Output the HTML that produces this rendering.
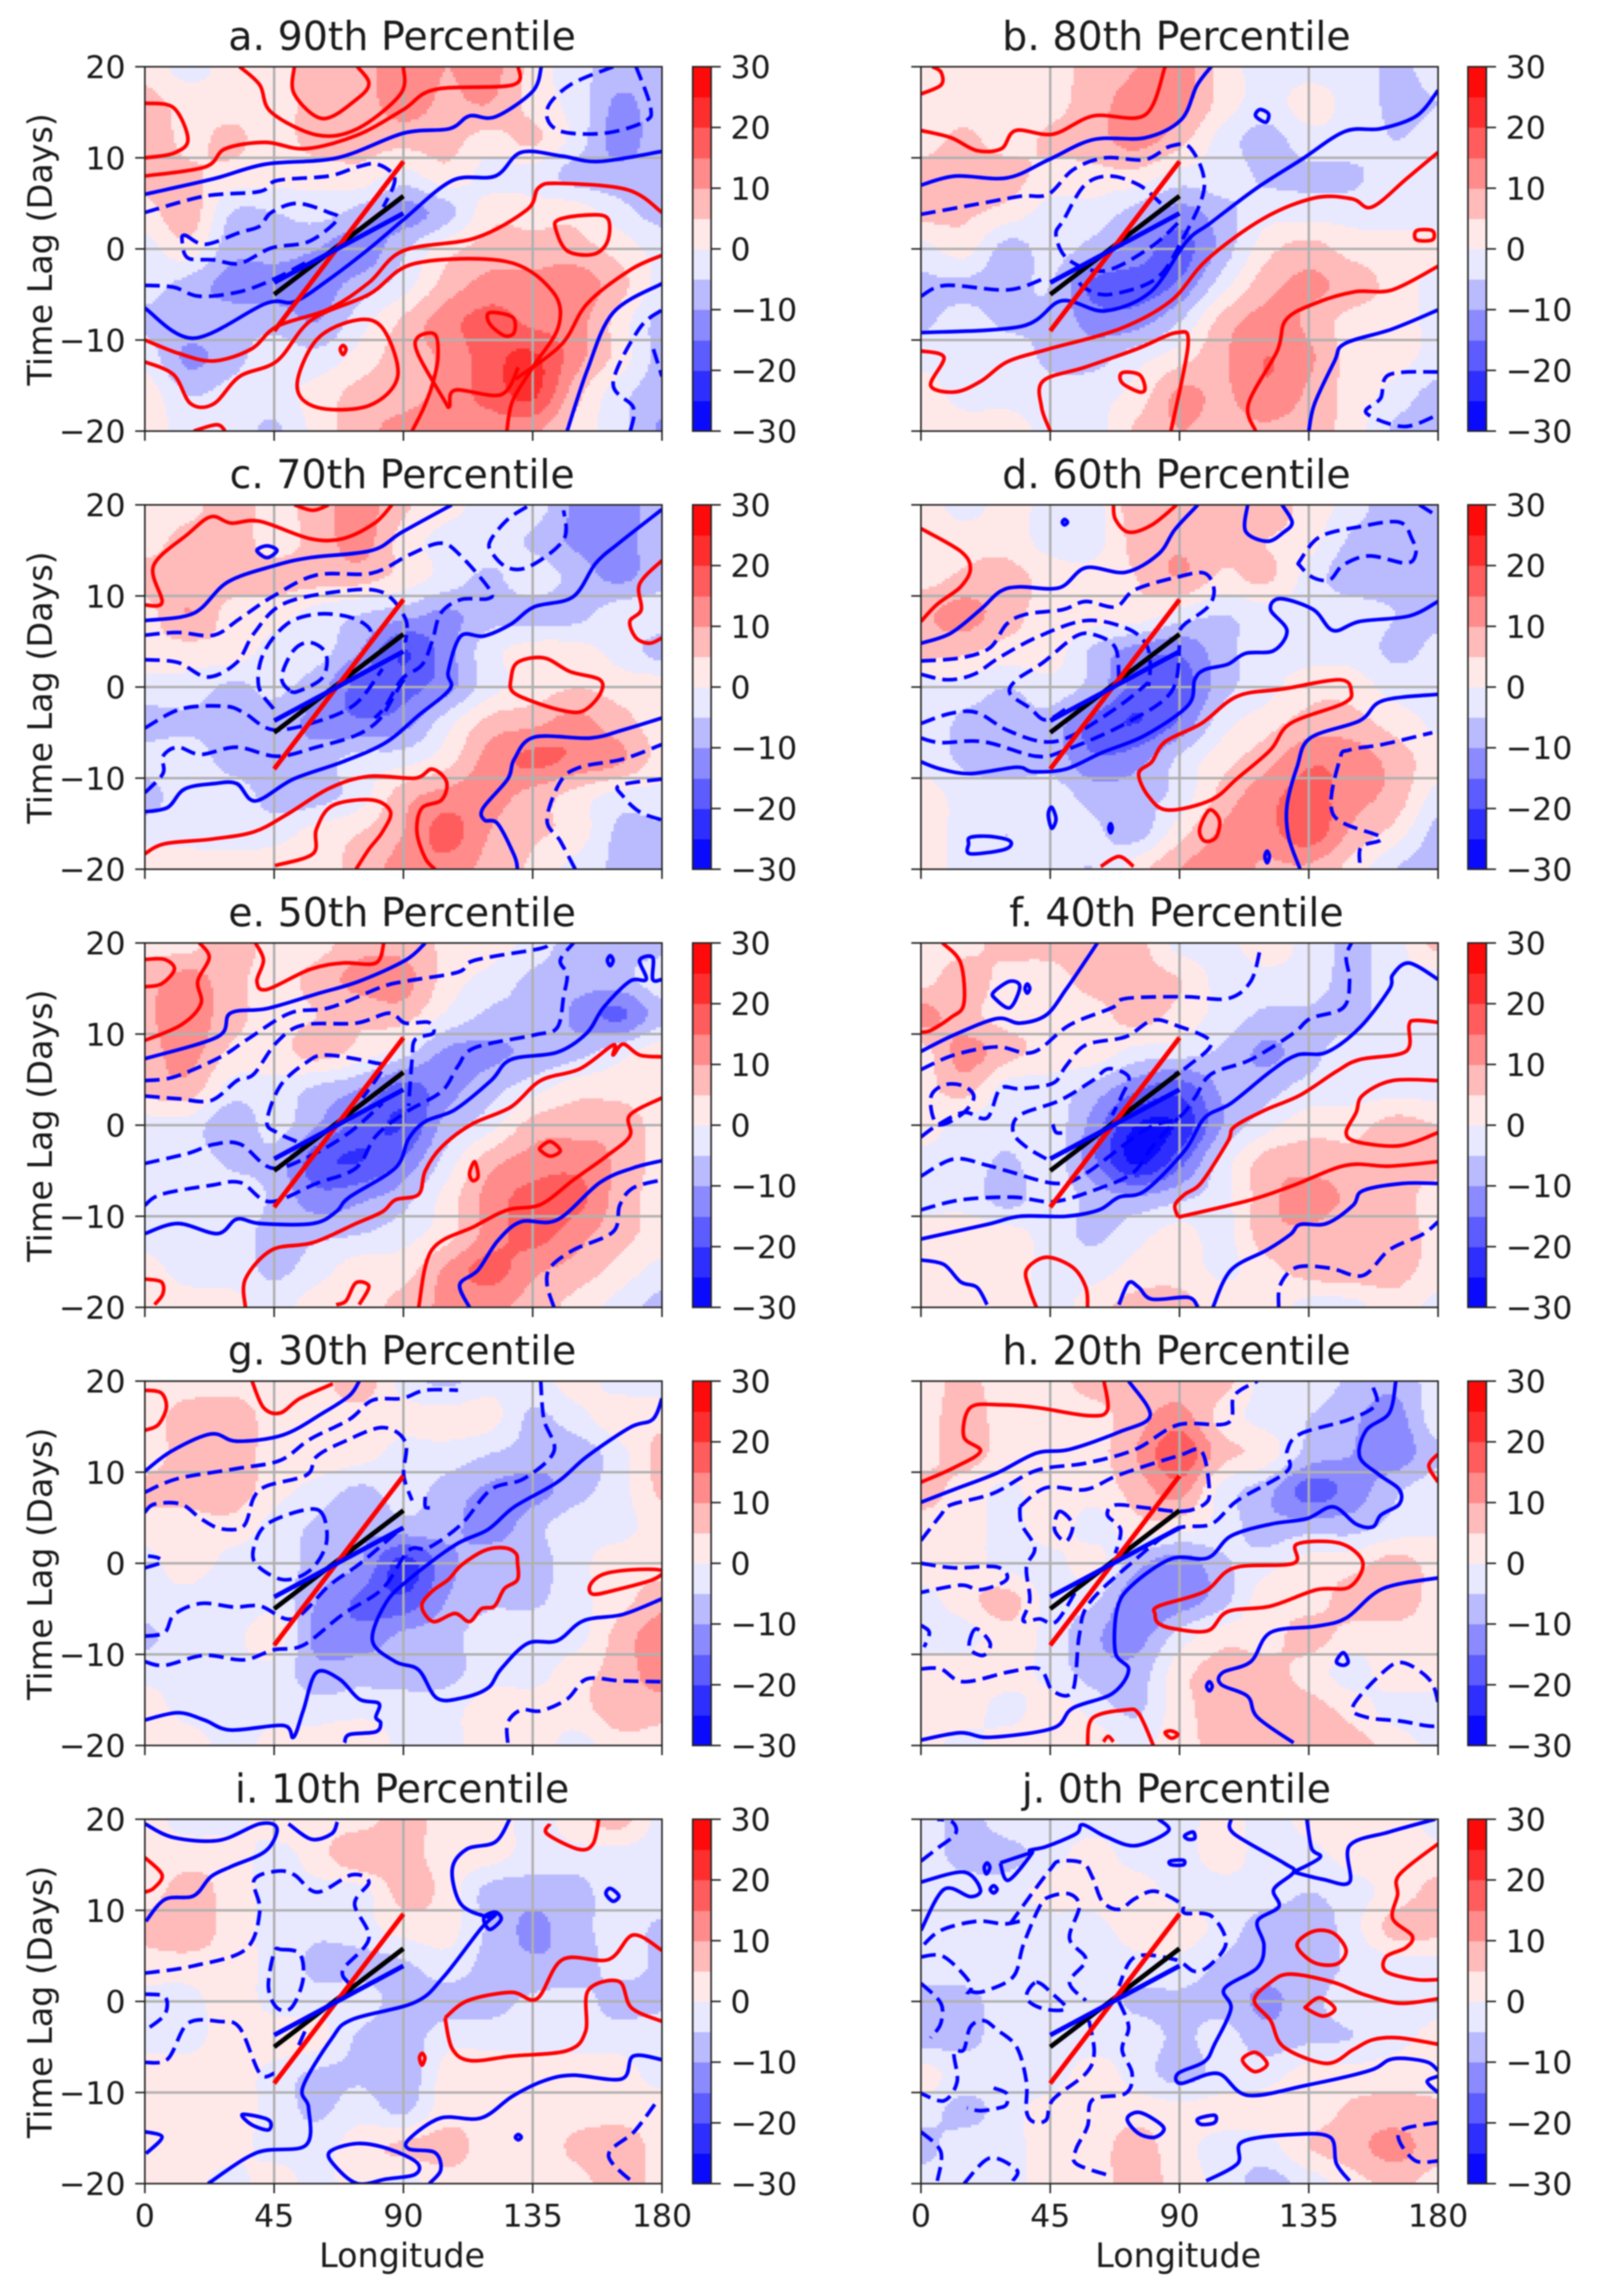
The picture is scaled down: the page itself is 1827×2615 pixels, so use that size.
<!DOCTYPE html>
<html lang="en">
<head>
<meta charset="utf-8">
<title>Time Lag vs Longitude Percentile Panels</title>
<style>
html,body{margin:0;padding:0;background:#fff}
#figure{display:block;width:1827px;height:2615px;font-family:"DejaVu Sans","Liberation Sans",sans-serif;fill:#1a1a1a;filter:blur(.8px)}
.title{font-size:45px;text-anchor:middle}
.axis-label{font-size:38px;text-anchor:middle}
.tick{font-size:36px}
</style>
</head>
<body>
<svg id="figure" xmlns="http://www.w3.org/2000/svg" width="1827" height="2615" viewBox="0 0 1827 2615">
<g id="layers"></g>
<text class="title" x="458" y="57">a. 90th Percentile</text>
<text class="title" x="1340" y="57">b. 80th Percentile</text>
<text class="title" x="458" y="556">c. 70th Percentile</text>
<text class="title" x="1340" y="556">d. 60th Percentile</text>
<text class="title" x="458" y="1055">e. 50th Percentile</text>
<text class="title" x="1340" y="1055">f. 40th Percentile</text>
<text class="title" x="458" y="1554">g. 30th Percentile</text>
<text class="title" x="1340" y="1554">h. 20th Percentile</text>
<text class="title" x="458" y="2053">i. 10th Percentile</text>
<text class="title" x="1340" y="2053">j. 0th Percentile</text>
<text class="axis-label" transform="translate(59,284) rotate(-90)">Time Lag (Days)</text>
<text class="axis-label" transform="translate(59,783) rotate(-90)">Time Lag (Days)</text>
<text class="axis-label" transform="translate(59,1282) rotate(-90)">Time Lag (Days)</text>
<text class="axis-label" transform="translate(59,1781) rotate(-90)">Time Lag (Days)</text>
<text class="axis-label" transform="translate(59,2280) rotate(-90)">Time Lag (Days)</text>
<text class="axis-label" x="458" y="2582">Longitude</text>
<text class="axis-label" x="1342" y="2582">Longitude</text>
</svg>
<script>
// Axis labels and colour levels
const lonTicks=[0,45,90,135,180];
const lagTicks=[20,10,0,-10,-20];
const barTicks=[30,20,10,0,-10,-20,-30];
const levels=[-30,-25,-20,-15,-10,-5,0,5,10,15,20,25];
const bandShades=[232,186,139,93,46,10];

// Regression lines, longitude and lag end points
const refLon=[45,90];
const blackLag=[-5,5.8];
const redLag=[-9,9.6];
const blueLag=[-3.7,3.9];

// Shaded anomaly: rows lag 20..-20 every 4 days, columns lon 0..180 every 15 deg
const heatA=[
[3,-2,2,3,8,8,13,10,12,3,-3,-7,-7],
[7,3,3,4,6,8,12,9,10,3,-2,-11,-7],
[8,4,6,3,7,7,7,7,3,6,-2,-12,-7],
[7,6,3,2,2,3,-2,3,-2,-2,-7,-8,-7],
[3,8,-5,-5,-3,-7,-12,-7,3,3,3,-3,-7],
[-2,3,-8,-8,-10,-13,-6,3,7,7,7,3,-2],
[-3,-7,-12,-12,-12,-8,-2,7,12,12,13,7,-2],
[-6,-7,-7,-7,-10,-2,6,13,17,14,12,3,-7],
[-2,-11,-7,-2,-3,2,8,11,18,21,12,3,-7],
[3,-5,-3,-2,2,7,8,12,17,21,7,-3,-8],
[3,-2,-2,-6,2,8,12,13,12,11,3,-3,-11]];
const heatB=[
[3,3,3,3,7,10,13,3,-2,-2,-2,-6,-3],
[3,3,3,3,8,12,12,3,-2,2,-2,-6,-5],
[3,6,3,6,8,12,7,-2,-7,-2,-2,-5,-3],
[7,8,7,3,3,3,-2,-2,-6,-6,-6,-2,-2],
[7,6,3,-2,-2,-7,-12,-7,-2,-2,-2,-2,-2],
[-2,2,-7,-3,-7,-12,-17,-8,3,7,3,2,2],
[-6,-6,-7,-5,-16,-17,-14,-2,8,11,8,3,-2],
[-6,-3,-6,-6,-12,-12,-5,7,12,9,3,3,-2],
[-2,-2,-2,-6,-7,-2,3,9,15,11,3,2,-2],
[3,-2,-2,-3,-2,2,11,9,14,9,3,-2,-7],
[3,3,3,-2,-2,6,10,8,9,7,3,-6,-7]];
const heatC=[
[3,3,8,3,8,12,6,2,-2,-2,-11,-12,-8],
[3,7,8,3,7,12,3,-2,-2,-6,-11,-12,-7],
[7,7,8,7,7,7,3,-2,-6,-2,-7,-11,-7],
[3,10,3,2,-2,-5,-8,-11,-7,-7,-7,-2,-2],
[3,3,3,-2,-3,-10,-20,-12,-2,2,2,-2,-7],
[-2,-2,-6,-4,-8,-17,-17,-12,-2,2,5,3,3],
[-7,-6,-7,-7,-12,-14,-12,-2,7,9,12,7,3],
[-3,-2,-7,-7,-7,-3,-2,3,12,16,14,11,3],
[-7,-2,-2,-7,-7,-2,8,12,12,8,3,-2,-2],
[-2,-2,-2,-2,2,5,10,17,10,6,3,-6,-6],
[3,3,2,3,3,7,12,13,8,4,-2,-6,-7]];
const heatD=[
[3,-2,2,-2,-2,8,8,7,8,3,-2,-9,-9],
[3,3,3,-2,-2,7,9,6,5,2,-6,-8,-8],
[3,6,7,3,2,5,10,4,6,-2,-8,-7,-7],
[9,12,7,3,3,3,-2,-5,-2,-2,-2,-5,-6],
[7,6,3,3,-6,-12,-14,-7,-2,-2,-2,-6,-4],
[-2,-2,-5,-2,-7,-17,-18,-7,-2,3,3,-2,-2],
[-2,-6,-7,-7,-17,-20,-14,-2,3,7,7,3,-1],
[-2,-6,-9,-7,-14,-12,-4,3,8,14,13,8,2],
[3,-2,-2,-2,-7,-7,-3,7,13,17,12,8,-2],
[3,-2,-5,-2,-4,-7,3,11,13,18,9,3,-7],
[3,-2,-3,-2,-5,3,10,13,9,9,3,-5,-8]];
const heatE=[
[3,3,8,3,3,8,8,4,3,-2,-7,-7,-7],
[8,12,7,3,7,12,12,3,-2,-6,-8,-7,-2],
[9,13,7,3,5,6,7,-1,-6,-6,-11,-16,-7],
[8,12,4,3,7,3,-3,-11,-11,-9,-7,-2,3],
[7,8,-2,-2,-6,-10,-17,-12,-7,-2,3,3,3],
[-2,-2,-9,-3,-10,-17,-20,-8,-2,7,8,8,3],
[-2,-2,-6,-7,-18,-20,-14,-3,8,12,13,9,3],
[-2,-2,-2,-6,-13,-11,-7,2,12,17,17,8,3],
[-2,-2,-2,-7,-6,-5,-2,3,12,17,12,7,3],
[2,-2,-2,-6,-2,3,3,11,17,11,8,3,-2],
[3,3,2,-2,3,3,7,11,11,8,3,-2,-7]];
const heatF=[
[3,3,7,7,7,7,-2,-2,3,-2,-6,-2,7],
[3,8,3,3,7,7,5,-2,-2,-2,-7,-2,-2],
[12,7,3,3,3,7,3,-2,-6,-6,-7,-2,-2],
[3,12,7,3,3,-2,-3,-6,-11,-7,-2,-2,-2],
[3,7,-2,-2,-7,-14,-18,-9,-7,-3,-2,-2,-2],
[3,-2,-2,-2,-12,-25,-24,-10,-2,3,3,7,5],
[-2,-2,-6,-2,-14,-26,-17,-3,7,8,7,7,7],
[-2,-2,-7,-2,-7,-9,-6,-2,8,12,9,7,3],
[2,3,2,-2,-6,-2,2,-2,8,9,7,8,3],
[3,3,3,-2,-2,2,3,-1,3,7,8,7,3],
[3,2,3,-2,3,7,7,3,3,-2,-2,3,-2]];
const heatG=[
[3,3,3,3,3,8,-2,-6,-2,-2,2,-2,-2],
[3,7,8,3,3,3,2,2,2,-6,-2,3,3],
[3,7,8,3,3,2,-2,-2,-5,-7,-8,-2,7],
[6,7,8,2,-2,-6,-3,-7,-11,-12,-7,-2,6],
[3,3,3,-2,-6,-9,-7,-8,-13,-7,-2,-2,3],
[-2,3,-2,-2,-7,-10,-22,-12,-6,-7,-2,3,3],
[-2,-2,-5,-2,-10,-16,-19,-10,-6,-6,-2,3,8],
[-6,-2,-2,3,-12,-13,-9,-7,-2,-2,-2,7,13],
[-2,-2,-2,-2,-8,-7,-8,-7,-2,-2,3,7,13],
[3,-2,-2,-2,-3,-2,-2,-2,3,3,3,8,7],
[3,3,-2,2,3,5,-2,-2,3,3,-2,3,3]];
const heatH=[
[3,6,3,3,7,7,8,7,-2,-2,-6,-9,-2],
[3,7,3,3,3,8,12,3,-2,-5,-9,-12,-2],
[3,7,3,3,3,10,19,7,3,-7,-10,-13,-6],
[7,3,-1,3,2,7,12,-2,-8,-17,-13,-6,-2],
[3,3,-2,3,-2,3,2,-2,-8,-7,-7,-3,-1],
[3,3,-2,-2,2,-8,-13,-6,-2,2,3,7,3],
[-2,3,7,-2,-4,-14,-13,-7,3,3,7,8,3],
[-2,-2,3,-2,-9,-12,-3,3,3,7,3,3,3],
[3,3,3,-2,-7,-8,3,7,7,3,-2,3,2],
[3,3,-2,3,-2,-6,3,7,7,7,3,-2,-2],
[3,-2,3,3,3,-1,3,7,8,7,7,3,-2]];
const heatI=[
[2,-2,-2,3,3,3,7,3,3,-2,3,7,-2],
[2,3,3,-2,3,9,7,3,2,-2,-2,-2,-2],
[3,7,3,-2,-2,-2,7,3,-7,-8,-7,-2,-2],
[6,8,3,-2,-4,-2,2,2,-6,-11,-7,-3,-6],
[3,3,3,-2,-6,-7,-6,-2,-7,-9,-8,-3,-6],
[-2,-2,3,-2,-3,-2,-8,-7,-7,-4,-3,-7,-6],
[-2,-2,3,3,2,-6,-8,-2,-2,-2,-2,-2,-2],
[3,3,3,-2,-6,-6,-9,2,3,3,3,2,-2],
[3,3,3,-2,-6,-2,-6,3,3,3,3,3,3],
[5,3,2,-2,-2,3,6,7,3,2,6,8,3],
[2,2,-2,3,-2,3,-2,3,3,3,3,8,3]];
const heatJ=[
[-2,-7,-2,-2,-2,-2,-2,2,-2,2,5,3,-2],
[-2,-7,-7,-2,2,-2,-2,2,-2,-2,2,2,2],
[-2,-2,-2,2,2,3,-2,-2,-2,-5,-2,2,7],
[-2,-2,-4,-2,-2,3,3,-2,-8,-9,-2,7,7],
[-2,-2,-2,-2,-5,-2,-2,-6,-8,-8,-4,-2,-2],
[-7,-7,-2,-2,-2,-6,-6,-7,-11,-7,-2,-3,-2],
[-7,-7,-2,-2,-2,-2,-6,-3,-8,-6,-5,-2,2],
[2,-2,-2,-2,2,-2,-7,-3,-2,2,2,3,3],
[-2,-7,-2,2,3,3,2,2,2,2,6,7,6],
[-7,-2,-2,3,3,7,2,-2,-2,5,8,12,7],
[-2,-2,-2,3,3,7,3,-2,-7,-3,3,6,3]];

// Contours: [style, [lon,lag,lon,lag,...]]; r = red, b = solid blue, d = dashed blue
const contoursA=[
['r',[52,20,52,17,62,14.3,74,16.5,78,18.2,74,20]],
['r',[33,20,40,18,44,15,60,12.5,74,13.2,89,17,90,20]],
['r',[0,8,21,9,28,11,42,11.7,56,11,74,12.5,90,15.3,101,17.5,128,18,130,20]],
['r',[0,16,10,15.5,15,12,10,10.5,0,10]],
['b',[0,6,24,7.7,42,9.3,67,10,90,12.7,106,13.2,113,14.6,122,14.5,135,17.3,138,20]],
['b',[0,-6.5,17,-9.8,42,-6,52,-5.8,63,-3.6,78,0,90,3.2,107,7.5,122,8,131,10.6,145,10.2,158,9.6,180,10.7]],
['r',[0,-10,12,-11.5,24,-12.3,37,-11,46,-8.5,64,-6.6,78,-3.7,90,-0.2,115,1.2,133,4.3,137,6.7,144,7.2,168,6.5,180,4]],
['r',[0,-12.4,10,-13.8,16,-17,24,-17,33,-14,46,-12.3,58,-7.8,78,-5,94,-1.6,126,-1.4,142,-4.7,144,-8.5,135,-13,128,-16.7,126,-20]],
['r',[74,-7.8,83,-8.8,88,-14,78,-17.2,60,-17.4,53,-15,60,-9.9,74,-7.8]],
['r',[130,-13,124,-16,108,-15.5,106,-17.3,104,-16.5,95,-11.5,95,-9.7,101,-9.4,102,-12,100,-15,97,-17.5,93,-20]],
['r',[120,-7,128,-7.5,128.5,-9.2,125,-9.5,120,-8.2,120,-7]],
['r',[144,3.2,153,3.7,161,3.4,161,0.8,156,-0.6,147,-0.2,143,2.2,144,3.2]],
['r',[69,-10.6,70,-11,69,-11.6,68,-11,69,-10.6]],
['r',[17,-20,25,-19.3,28,-20]],
['r',[180,-0.7,169,-2.3,154,-6,145,-10.5,129,-14.3]],
['b',[180,-3.8,163,-7,154,-13.3,147,-20]],
['d',[0,4,21,5.8,40,6.3,46,7.5,64,8,74,9,81,9.3,87,7.7,83,4.6]],
['d',[14,1.5,21,0.5,33,1.8,40,2.5,44,4,53,5,64,4,67,3.2,57,0.8,44,0.1,33,-1.6,24,-1.2,15,-1,13,0.8,14,1.5]],
['d',[0,-4,10,-4.2,19,-5.2,33,-4.7,45,-3.3,56,-1.5]],
['d',[169,-20,170,-17.4,163,-14.7,172,-8.8,180,-6.7]],
['d',[177,-11,180,-14]],
['d',[163,20,148,18,140,15.3,144,13,160,12.7,174,14,176,15.6,171,20]]];
const contoursB=[
['r',[0,17,7,18,7,19.4,4,20]],
['r',[0,13,10.5,12.2,19.4,10.8,28,11,33,13,46,12.6,60,14.6,78,14.7,85,20]],
['b',[0,7,12,8,30,7.8,44.5,9.8,60,12,78,12.2,90.6,14.2,96,17.9,101,20]],
['b',[0,-9.2,35,-8.5,49,-5.7,64,-6.8,80,-4.7,92.4,0.8,101,2.9,117,6.7,132.4,9.8,147.6,12.9,160,13.2,172.5,14.6,180,17.4]],
['r',[0,-11.2,8,-11.9,3.4,-15,12,-15.7,21,-14.5,30,-12.4,44.3,-11,69,-8.8,87,-5.7,99.5,-1.2,119,3.3,137,5.6,150,5.5,157,4.6,169,7.7,180,10.6]],
['r',[45,-20,42,-17.4,42.5,-14.5,57,-13,75,-11,89,-9.2,93,-10.5,87,-20]],
['r',[116.5,-20,114,-17,124,-11.2,127,-7.8,137,-6,151,-4.7,164,-4.5,180,-1.9]],
['b',[135,-20,137,-17,144,-12.3,147.5,-10.4,164,-8.8,180,-6.7]],
['r',[70,-13.6,76,-13.8,78,-15.3,76,-15.7,70,-14.7,70,-13.6]],
['r',[172.5,2,178,2,178,1,172.5,1,172.5,2]],
['b',[118,15.3,121,14.8,120,13.9,116.5,14.6,118,15.3]],
['d',[0,3.8,21,5,35,5.8,44.3,6,53,8.7,64,10,78,9.8,87,11.3,94,11,98.6,6.7,90.6,0.8,81.7,-3.3,65.7,-5,57,-4.3,54,-3]],
['d',[0,-5.2,8.7,-4,30,-4.5,42.5,-3.3]],
['d',[83.5,5,76,7,65.7,8,57,7,49.7,3.2,47,1.5,51.4,-1.2,64,-2.4,80,0.2,90.6,3.2]],
['d',[180,-13.5,163,-13.8,160,-16.4,155,-18,168,-19.5,180,-18.2]]];
const contoursC=[
['r',[0,9,6,9.3,3,13.3,15,16.8,23,18.7,30,18,40,18.2,57.4,16.3,69,16.3,80,18,86,20]],
['r',[52,20,58.5,19.4,64,20]],
['b',[0,7.3,17,8.1,28.7,11.5,44.8,13.3,57.4,14.2,79,15,89.5,17,106.8,20]],
['b',[39,15,42.5,15.5,46,15,42.5,14.2,39,15]],
['d',[0,5.7,11.5,6,24,5.7,33,7.5,44.8,10,59.7,12.3,79,12.5,92,14.5,103,15.8,110,14.4,120,10.7,119.4,9.7,110,9.6,103,8.1,100,5,96.4,2.4,89.5,0.9,83.8,-2.1,80,-3.4]],
['d',[0,3,11.5,2.7,21.8,1.1,32,2.7,38,5.9,48,9.1,67.7,10.5,82.7,10.4,90.7,7.5,90.7,4.9]],
['d',[44.8,-2.4,39.6,0.1,41.3,3.7,49.4,6.9,59.7,8,71,7.7,78,6.5,79,4.9]],
['d',[50.5,-0.4,47.6,1.1,51.7,4,57.4,4.9,63,3.7,62,1.1,54,-0.4,50.5,-0.4]],
['d',[0,-4.5,12.6,-2.4,27.6,-2.1,34.4,-2.8,44.8,-4.7,60.8,-3.7,73.5,-1.8,82.7,2]],
['d',[0,-11.6,6.3,-9.5,6.3,-7.6,11.5,-6.6,19.5,-7.4,32,-6.6,46,-7.6,59.7,-6.6,73.5,-5.3,81.5,-3.6,87,-0.8,90.7,1.1]],
['b',[0,-13.7,8,-13.2,13.8,-11.2,24,-10.6,32,-10.6,38.5,-12.5,51.7,-10.1,68.9,-8.2,83.8,-6.1,95.3,-3.1,106.2,-0.2,105.6,1.7,110,5.6,118,5.6,127.4,6.9,135.5,8.8,149,9.9,157,13.6,165,15.8,180,19.5]],
['r',[0,-18.3,6.9,-17.2,23,-16.7,37.9,-15.9,49.4,-14,64.3,-11.1,78,-9.8,94,-10,100,-9,105,-10.4,103.3,-12.4,96.4,-13.3,94.7,-15.9,97.6,-18.8,101,-20]],
['r',[45.3,-19.6,58.5,-18.3,59.7,-15.6,65.4,-13,79.2,-12.4,85.5,-13.7,82.7,-15.9,78,-17.8,73.5,-20]],
['b',[129.7,-20,128.6,-18.5,122.8,-15,118.2,-14.6,117.7,-13.3,126.3,-10.1,128.6,-7.9,135.5,-5.5,155,-5.6,166.5,-4.7,180,-3.4]],
['d',[149.8,-20,144.6,-16.9,140,-14.6,144.6,-10.4,151.5,-8.8,166.5,-7.9,180,-6.3]],
['d',[180,-10.1,165.3,-10.8,166.5,-12,172.2,-13.7,180,-14.6]],
['d',[133,19.8,126.3,18.4,120.5,16.2,120.5,14.9,126.3,13.1,134.3,13.3,145.8,16.2,145.8,19.4]],
['r',[127.4,0.8,129.7,2.7,138.9,3.2,148,1.7,158.4,0.8,158.4,-0.8,152.7,-2.6,145.8,-2.6,134.3,-1.5,128,-0.5,127.4,0.8]],
['r',[180,13.9,172.2,11.3,172.8,8.5,168.8,7.2,171,5.4,175.7,4.8,180,5.4]]];
const contoursD=[
['r',[0,17.4,13.8,14.9,17.2,13,13.8,11,5.7,9.1,0,7.2]],
['r',[67,20,67.7,18.4,72.3,17,80.4,17.8,89,20]],
['b',[0,4.8,10.3,5.9,20.7,8.5,27.6,10.5,34.4,11,48.2,10.9,57.4,13.1,71.2,12.6,82.7,14.6,88.4,17.3,96.4,20]],
['b',[113.7,20,113,17.1,120.5,16,126.3,17,129.2,18.1,125.7,20]],
['b',[50,18.4,51,18.1,50,17.8,49.2,18.1,50,18.4]],
['b',[120.5,-18,121.3,-18.6,120.5,-19.3,119.7,-18.6,120.5,-18]],
['b',[66,-15,66.6,-15.5,66,-16,65.4,-15.5,66,-15]],
['b',[45.5,-13.2,47,-14.5,45.5,-15.5,44.3,-14,45.5,-13.2]],
['d',[0,2.85,13.8,3.2,24,4.3,29.8,6.9,36.7,8,49.4,8.5,57.4,9.4,67.7,8.8,74.6,10.7,89.5,12.1,98.7,12.5,102,10.7,99.9,8.8,91.8,6.9,89.5,5.9]],
['d',[0,1.4,9.2,0.8,18.4,1.4,27.6,3.3,41.3,5.6,57.4,7.3,71.2,6.5,78,4.9,79.8,2.7,79.2,0.1]],
['d',[68.9,0.8,67.7,4.3,60.8,5.7,54,5.6,42.5,2.7,33.3,0.8,31,-0.7,37.9,-2.3,43.6,-3.6,51.7,-2.1]],
['d',[0,-4,10.3,-2.9,19.5,-2.8,29.8,-4.7,42.5,-6,52.8,-5.3,68.9,-2.1,79.2,0.5]],
['d',[0,-5.6,6.9,-6.1,21.8,-6,40.2,-7.6,50.5,-6.9,71.2,-4,87.2,-0.5,90,4.6]],
['b',[0,-8.2,6.9,-9,17.2,-9.5,33.3,-8.8,39,-9.3,50.5,-9,63,-7.2,78,-5.3,93,-2,95.3,0.8,98.7,1.9,106.8,2.5,113,3.7,122.8,4,127.4,6.2,121.7,8.5,125.1,9.7,136.6,8.5,143.5,6.2,152.7,7.2,169.9,7.8,180,9.4]],
['r',[149.8,-0.5,145.8,0.8,126.3,-0.2,110.2,-1,97.6,-4,85,-6,80.4,-8.2,75.8,-9.5,79.2,-12,86,-13.5,101,-12.4,110.2,-10,121.7,-6.9,128.6,-4,147,-1.8,149.8,-0.5]],
['b',[132,-20,128,-16.5,127.4,-13,130.9,-8.8,135.5,-5.6,152.7,-3.7,160.7,-1.5,180,-0.8]],
['d',[152.7,-19.3,153.3,-17.5,160.1,-16.5,143.5,-14,145.8,-7.9,149.2,-6.9,160.7,-6.3,178,-5]],
['d',[132,13.3,132,13.9,138.9,16.5,152.7,17.6,166.5,18.1,171,16.2,172.2,14.6,168.8,13.6,156.1,14.4,147,13.4,142.4,11.8,136.6,12,132,13.3]],
['d',[173.5,20,180,18.7]],
['r',[100.4,-13.5,103.9,-14.6,102.7,-16.5,98.7,-16.9,97,-15.6,100.4,-13.5]],
['b',[17.2,-16.5,24.1,-16.4,31,-16.9,29.3,-17.8,17.2,-18.3,16.6,-17.2,17.2,-16.5]],
['r',[62.6,-19.7,68.9,-18.6,74,-19.7]]];
const contoursE=[
['r',[19,20,22.4,18.4,18.4,15.8,19.5,13.3,12.6,11,0,9.3]],
['r',[0,18.2,6.9,18.2,10.3,17.1,5.7,15.5,0,15.2]],
['r',[38.5,20,41.3,18.1,39,15.8,42.5,14.9,57.4,17.1,68.9,17.8,80.4,17.8,83.2,20]],
['b',[0,7.3,25.3,9.7,29.8,12.3,42.5,12.8,59.7,14.4,74.6,15.8,90.7,18.1,97.6,20]],
['d',[0,4.9,10.3,5.3,26.4,7.5,35.6,9.4,50.5,12.3,64.3,12.9,82.7,15.2,90.7,15.8,109,16.8,114.8,18.1,137.8,19.4,140,20]],
['d',[0,3.2,11.5,2.9,23,2.7,32.1,4.9,37.9,5.6,45.9,9.1,55.1,11,73.5,11.2,85,12.3,90.7,11.2,98.7,11.3,100.4,10.1,94.1,9.4,93,7.2,91.8,2.1]],
['d',[52.8,-1.8,45.9,-0.8,42.5,0.4,47.1,4.3,56.3,6.9,63.1,7.7,79.2,6.9,82.7,6.2,75.8,3]],
['d',[0,-4.2,14.9,-3.1,24.1,-2.1,33.3,-2.1,44.2,-4.7,57.4,-3.4,71.2,-0.8,82.7,2.4]],
['d',[0,-8.8,5.7,-7.6,23,-6.6,33.3,-6.3,43.6,-8.4,59.7,-6.4,73.5,-4.7,80.4,-1.2,90.7,1.4,103.3,3.7,109,6.5,114.8,8.5,135.5,9.9,143.5,10.7,145.8,14.2,147,16.5,144.6,18.1,149.2,20]],
['b',[0,-11.9,11.5,-10.8,25.3,-11.9,32.1,-10.3,40.2,-10.8,58.5,-10.8,66.6,-9.5,71.2,-7.9,87.2,-4.7,91.8,-1.5,97.6,0.4,107.9,1.7,120.5,4.9,127.4,7.2,143.5,8,153.8,10.1,159.6,12.9,168.8,15.8,174.5,16,172.2,18.1,176.8,18.4,176.8,16,180,16]],
['b',[162,18.6,163,18.1,162,17.5,161,18.1,162,18.6]],
['r',[35,-20,35,-16.9,44.2,-13.7,58.5,-12.9,73.5,-10.8,82.7,-9.5,87.2,-8.2,95.3,-7.6,97.6,-5,103.3,-2.4,113.7,0.1,127.4,2,137.8,4.9,151.5,6.2,163,8.8,163,7.7,166.5,8.9,172.2,7.7,180,7.5]],
['r',[95.3,-20,99.9,-13.7,114.8,-11.1,126.3,-9.3,137.8,-8.7,149.2,-6,160.7,-3.4,168.8,-1.2,168.8,1.1,180,3]],
['b',[113,-20,109.6,-17.5,116,-15.9,122.8,-12.7,130.9,-10.6,143.5,-10.4,158.4,-6.3,169.9,-4.7,180,-3.9]],
['d',[142.4,-20,140,-17.5,141.2,-15.6,149.2,-13.7,163,-11.7,165.3,-8.8,169.9,-6.9,180,-6]],
['r',[137.8,-2.4,141.2,-1.8,144.6,-2.8,141.2,-3.4,137.8,-2.8,137.8,-2.4]],
['r',[113,-5.3,114.8,-4,116,-5.6,114.2,-6.1,113,-5.3]],
['r',[66.6,-19.7,70,-19.3,73.5,-17.3,78,-17.7,74.6,-19.7]],
['r',[0,-16.9,5.7,-17.2,6.3,-18.5,3.4,-19.7]]];
const contoursF=[
['r',[7.5,20,13.8,17.8,14.9,13.3,10.3,11.8,3.4,10.4,0,10.2]],
['b',[0,8.1,11.5,9.9,26.4,11.7,34.4,11.2,43.6,12.1,50.5,14.9,57.4,18.1,61.4,20]],
['b',[25.3,14.6,31,15.8,34.4,15.2,31,12.9,25.8,13.9,25.3,14.6]],
['b',[37,15.5,37.9,15,37,14.5,36.2,15,37,15.5]],
['d',[0,6.1,11.5,7.7,26.4,8.6,39,8,51.7,11,66.6,12.9,71.2,13.9,91.8,14.1,106.8,13.9,114.8,15.8,118.2,19.5]],
['d',[0,-1.3,5.7,0,14.9,1.4,23,0.8,27.6,4,34.4,4,45.9,4.6,50.5,6.5,57.4,8.8,71.2,9.7,80.4,11.5,88.4,11,101,9.1,93,6.5,88.4,5.6]],
['d',[3.4,3,8,4.4,14.9,4.3,18.4,3,13.8,1.1,5.7,0.1,3.4,3]],
['d',[43.6,-3.7,36.7,-2.4,32.1,-0.8,34.4,1.1,48.2,2.7,59.7,4.9,65.4,6.2,72.3,5.3,70,3.3,66.6,1.1]],
['d',[0,-5.6,11.5,-3.7,23,-4.4,29.8,-5,47.1,-6.4,57.4,-5.3,78,-0.5,89.5,0.8,95.3,3,101,5.6,114.8,7.2,129.7,10.1,135.5,11.7,147,12.9,149.2,15.8,148,18.4,149.8,20]],
['d',[0,-9.3,13.8,-8.2,32.1,-7.9,45.9,-8.4,59.7,-7.2,73.5,-5.3,80.4,-2.4,89.5,0.8]],
['b',[0,-12.5,23,-10.9,34.4,-10,50.5,-10,62,-9.3,68.9,-7.9,78,-7.2,91.8,-2.8,98.7,0.8,107.9,2.4,121.7,5.9,130.9,7.7,141.2,8,152.7,10.7,163,14.9,164.2,16.5,169.9,17.8,180,16]],
['r',[89.5,-10.1,88.4,-8.8,91.8,-7.6,97.6,-6.3,106.8,-1.8,109,-0.2,119.4,1.6,132,3.3,144.6,5.9,152.7,7.2,168.8,8.1,169.9,11,172.2,11.5,180,11.3]],
['r',[89.5,-10.1,114.8,-8.2,129.7,-6.6,148,-4.4,163,-4.5,180,-4]],
['b',[0,-14.8,8,-15.3,13.8,-17.2,19.5,-17.8,23,-19.7]],
['r',[180,4.9,164.2,4.9,153.8,3.3,151.5,1.4,148,-0.8,151.5,-1.8,164.2,-2.3,172.2,-1.8,180,-0.8]],
['b',[101.6,-20,107.9,-15.9,120.5,-13.7,128.6,-12,132,-10.9,141.2,-10.8,150.4,-8.8,153.8,-7.2,167.6,-6.4,180,-6.4]],
['d',[124.5,-20,125.1,-17.5,130.9,-15.6,142.4,-15.7,153.8,-16.5,163,-13.7,174.5,-12,180,-10.6]],
['r',[40.2,-20,37.9,-18.1,36.7,-15.9,43.6,-14.5,52.8,-15.6,57.4,-17.8,58,-20]],
['b',[68.9,-19.7,72.3,-17.3,75.8,-17.8,80.4,-19.1,93,-18.9,96.4,-20]],
['d',[45.9,0.1,47.1,-0.8,50.5,-0.8]]];
const contoursG=[
['r',[0,19,5.7,18.7,7.5,17.1,4.6,15.2,0,14.6]],
['r',[37.3,20,41.3,17.1,47.1,16.5,54,18.1,65.4,19.7]],
['b',[0,10.1,9.2,12.3,23,14.2,32.1,13.4,48.2,14.1,62,16.5,71.2,18.4,74.6,20]],
['d',[0,7.8,11.5,9.3,32.1,10.4,47.1,11.3,57.4,13.6,71.2,15.8,79.2,17.9,89.5,18.1,97.6,19,109,19]],
['d',[0,5.6,3.4,6.5,12.6,6.5,19.5,4.9,26.4,3.8,34.4,4.1,37.9,7.2,42.5,8.5,56.3,9.7,59.7,11.7,68.9,13.3,82.7,14.9,90.7,13.3,90.1,9.7,93,6.9]],
['d',[62,5.3,56.3,5.9,42.5,4.3,37.9,1.7,39,-0.2,48.2,-1.8,57.4,-0.8,63.1,2.1,62,5.3]],
['d',[0,-8,6.9,-7.6,10.3,-5.6,19.5,-4.4,31,-4.8,40.2,-4.7,51.7,-6.1,64.3,-2.4,75,0,89.5,3.9]],
['d',[0,-10.8,6.9,-11.2,20.7,-10.1,34.4,-10.6,44.8,-9.5,55.1,-9,68.9,-5.6,82.7,-2.8,91.8,1.4,98.7,1.7,110.2,4.3,120.5,8.1,132,9.3,142.4,12.3,138.9,15.8,137.8,20]],
['d',[97.6,7.3,97.6,6.2,99.3,6.1]],
['d',[0,-0.5,5.7,0.1,4.6,0.6,1.1,0.8]],
['b',[180,18.1,176.8,15.8,168.8,14.9,153.8,11.7,143.5,8.9,128.6,6.2,119.4,3.7,107.9,2,91.8,-1.8,83.8,-4.4,79.2,-8.5,87.2,-10.8,95.3,-11.7,101.6,-14.8,110.2,-14.8,119.4,-13.7,124,-11.6,133.2,-8.8,143.5,-8.5,152.7,-6.3,166.5,-5.6,180,-3.9]],
['b',[0,-17.2,11.5,-16.4,20.7,-17.2,29.8,-18.3,48.2,-17.8,51.7,-19.1,55.1,-16.2,59.7,-12,67.7,-12.7,74.6,-14.9,81.5,-15.4,80.4,-16.9,82.1,-17.5,80.4,-18.5,71.2,-18.8,69.5,-19.7]],
['d',[126.3,-19.7,126.3,-17.5,130.9,-16.1,137.8,-16.2,147,-14.9,153.8,-12.7,165.3,-12.9,180,-13]],
['r',[129.7,0.1,129.1,1.1,125.1,1.7,118.2,1.4,110.2,-0.2,105.6,-1.8,99.9,-3.1,96.4,-4.7,100.4,-6.4,107.9,-5.5,113,-6.4,117.1,-5,121.7,-4.7,125.1,-2.8,129.7,-1.8,129.7,0.1]],
['r',[155,-2.4,159.6,-1.2,169.9,-0.7,180,-0.8,176.8,-1.8,164.2,-2.9,156.1,-3.4,155,-2.4]]];
const contoursH=[
['r',[63.7,20,64.9,16.8,58.5,16.2,40.2,17.1,27.6,17.4,17.2,17.1,14.9,13.9,20.7,12.3,11.5,10.5,0,8.9]],
['b',[0,6.7,11.5,8.1,26.4,9.9,40.2,12.1,51.7,12.5,68.9,14.4,79.8,16.2,72.3,20]],
['d',[0,2.5,6.9,5.3,10.3,6.4,25.3,7.7,40.2,10.2,57.4,11,74.6,12.5,89.5,15.2,106.8,15.4,109,18.4,117.1,20]],
['d',[34.4,6.2,43.6,8.3,57.4,8.1,68.9,9.7,89.5,11.8,97.6,12.3,100.4,8.1,98.7,6.5,90.7,5.7,78,6.1,67.7,6.4,64.9,5.3,69.5,3.7,67.7,1.1]],
['d',[34.4,6.2,35,4.3,39.6,1.7,36.7,-0.5,37.9,-4,35.6,-6.3,41.3,-6.1,47.1,-6.4,55.1,-2.4]],
['d',[48.2,5.7,52.8,4.3,50.5,2.4,46.5,3.7,48.2,5.7]],
['d',[0,0,11.5,-0.5,26.4,-0.4,29.8,-1.8,20.7,-2.9,13.8,-2.4,0,-3.2]],
['d',[0,-11.6,6.9,-11.6,14.9,-13,31,-11.9,41.3,-11.6,45.9,-14,52.8,-14,55.1,-7.9,58.5,-4.4,73.5,0.1,88.4,3.7,101,4.3,110.2,6.9,127.4,10.1,127.4,12.3,132,14.2,149.2,15.8,158.4,17.4,157.3,19.4]],
['d',[17.2,-8.2,19.5,-7.2,24.1,-8.8,21.8,-10.1,17.2,-9.5,17.2,-8.2]],
['d',[0,-6.8,2.9,-7.6,1.1,-9.2]],
['d',[150.4,-15.7,160.7,-12,167.6,-10.9,176.8,-12.7,180,-15.3,180,-17.8,166.5,-17.3,155,-16.9,150.4,-15.7]],
['b',[0,-19.4,13.8,-18.6,24.1,-19.1,45.9,-18.1,52.8,-15.9,66.6,-14.3,72.3,-11.7,67.7,-9.8,68.3,-5,73.5,-2.4,87.2,0.5,99.9,0.6,107.9,3,121.7,4.3,134.3,4.9,143.5,6.2,151.5,4.3,157.3,4,160.1,5.3,166.5,6.5,166.5,8.1,159.6,9.7,152.7,11.7,155,14.6,163,16.5,165.3,20]],
['r',[81.5,-5.6,82.7,-4.7,98.7,-3.1,109,-0.5,129.7,0,130.9,2.1,145.8,2.2,153.8,0.1,149.2,-2.6,137.8,-2.9,121.7,-4.7,106.8,-5.3,99.9,-7.4,88.4,-7.2,82.7,-6.6,81.5,-5.6]],
['b',[129.7,-19.7,117.1,-16.9,113.7,-14.6,104.5,-13.3,105,-12,114.8,-10.8,121.7,-7.6,137.8,-6.9,148,-6,160.7,-2.8,180,-1.6]],
['r',[58,-20,59.7,-17,71.2,-16.1,75.8,-16.5,80.9,-20]],
['b',[100.4,-13,101.4,-13.5,100.4,-14,99.4,-13.5,100.4,-13]],
['r',[85,-18.6,87.2,-18.4,89.4,-18.8,87.2,-19.2,85,-18.6]],
['r',[63.5,-19.6,65.2,-19,67,-19.6]],
['b',[147,-9.8,148.7,-10.8,147,-11.2,144.6,-10.8,147,-9.8]],
['r',[180,12,176.8,10.7,180,8.9]]];
const contoursI=[
['b',[0,19.5,10,18,26,17.7,40,19.5,46,19,42,16.5,30,14.8,23,13.7,17,11.6,7,11.2,0.4,8.8]],
['b',[50,19.5,58,17.8,65,18.4,67,19.7]],
['r',[0,15.8,6,13.9,3,12.4,0,12]],
['d',[0,3.1,17,3.9,35,5.7,40,9.9,38,13.3,46,14.3,52,13.9,60,12,72,13.9,78,13.1,73,10.7,78,6.9,69,3.5,71,2]],
['d',[0,0.8,7,0.5,7,-1.4,1,-3]],
['d',[0,-6.7,8,-6.3,15,-2.4,26,-2.2,33,-2.9,40,-7.9,45,-7.9]],
['d',[47.5,5.7,54,5.2,55,2.3,51,-0.7,46,-0.7,43,1.6,45,5.4,47.5,5.7]],
['b',[22,-20,39,-16.6,56,-15.8,57,-11.7,55,-9.4,65,-4.1,72,-2,94,-0.1,104,2.7,117,8,122,9.5,119,9.3,110,10.7,107,14.5,112,16.7,122,17.5,127,20]],
['b',[118,9.2,122,9.8,124,9,120,7.9,118,9.2]],
['b',[180,-6.4,170,-6,166,-8.5,149,-8.1,139,-8.7,128,-10.4,117,-12.8,103,-12.8,92,-15.1,92,-16.2,101,-16.6,103,-18.5,99,-20]],
['b',[66,-18,64.4,-16.5,74,-15.6,85,-16.2,94.7,-17.7,94,-19,84,-19.5,74,-20,66,-18]],
['b',[34,-12.4,43,-13,43,-14.1,37,-13.5,34,-12.4]],
['b',[0,-14.3,6,-14.9,0.4,-16.7]],
['b',[130,-14.6,131,-14.9,130,-15.2,129,-14.9,130,-14.6]],
['b',[162,12.4,165,11.6,163,11,160.5,11.8,162,12.4]],
['r',[141,19.5,140,18.4,151,16.7,156,17.3,158,20]],
['r',[104.5,-1.8,112.5,0.1,127.6,1,136.5,0.3,145.4,4.6,161.4,4.6,170,7.3,180,5.6]],
['r',[104.5,-1.8,107,-5.2,113.4,-6.5,127.6,-6,147,-5.4,153.4,-3.3,154.3,1.2,165,2.2,169.4,-0.7,180,-2.2]],
['r',[96.5,-5.7,97.5,-6.2,96.5,-7,95.6,-6.2,96.5,-5.7]],
['d',[177.5,-11.3,170.3,-14.3,161.4,-16.9,170.3,-20]],
['d',[55.7,-3.3,53,-5.2]]];
const contoursJ=[
['b',[0,13.1,14.9,14.2,20.7,12.3,17.2,11.5,8,12.3,0,7.8]],
['b',[27.6,15.2,30.4,13.3,38.5,16.2,37.9,16.6,43.6,17,54,18.4,56.3,19.4,64.3,18.1,74.6,17.1,86.1,18.7,82.7,20]],
['b',[27.6,15.2,39,16.4]],
['b',[107.9,20,109,18.4,126.3,15.2,129.7,14.2,122.8,12.3,124.6,10.4,117.1,8.8,119.4,6.2,117.1,3.7,105.6,1.4,107.9,-0.8,102.2,-4.7,98.7,-6.6,89.5,-7.9,90.7,-9,103.3,-7.9,113.7,-10.3,134.3,-9.2,156.1,-7.6,164.2,-6.3,175.7,-6.6,180,-7.6]],
['b',[129.7,14.2,138.9,15.8,136,16.8,134.3,20]],
['b',[129.7,14.2,140,13.4,149.2,13.1,149.2,17.1,163,18.6,179,20]],
['r',[180,17.3,166.5,13.9,165.9,11.7,164.2,9.1,171,7.2,168.8,5.9,161.9,4.9,161.9,3.3,172.2,2.4,180,2.4]],
['r',[130.9,6.2,136.6,7.7,143.5,7.5,148,5.6,144.6,4.1,136.6,4.3,130.9,6.2]],
['r',[180,0.3,166.5,-0.2,153.8,0.8,143.5,2.1,128.6,3,121.7,2.1,116,0.1,121.7,-2.1,126.3,-5,141.2,-6.8,150.4,-5.3,157.3,-4.2,166.5,-4,180,-4.7]],
['r',[134.3,-0.5,138.9,0.4,144.1,-0.8,140,-1.6,134.3,-0.8,134.3,-0.5]],
['r',[111.9,-6.4,116.5,-5.6,120.5,-6.9,116,-7.7,111.9,-6.4]],
['b',[91.8,18.2,94.7,18.6,95.3,17.9,93,17.8,91.8,18.2]],
['b',[86.7,15.4,91.3,15.5,91.3,15,87.2,15,86.7,15.4]],
['b',[23,15.2,24,14.7,22.8,14,22,14.7,23,15.2]],
['b',[25.3,12.7,26.5,12.3,25.3,11.9,24.1,12.3,25.3,12.7]],
['b',[71.8,-12.9,76.3,-12.2,84.4,-13.8,81.5,-14.9,75.8,-14.5,71.8,-12.9]],
['b',[96.4,-12.9,102.2,-12.5,102.2,-13.3,97.6,-13.5,96.4,-12.9]],
['b',[99.3,-19.7,110.2,-17.8,111.9,-15.4,129.7,-14.6,142.4,-14.9,144.6,-17.8,149.2,-19.7]],
['b',[180,-8.2,176.2,-8.8,180,-10]],
['d',[0,15.4,5.7,16.8,12,18.4,10.9,19.7,5.7,20]],
['d',[34.4,8.8,28.7,8.5,19.5,8.8,6.9,7.8,0,5.9]],
['d',[17.2,1.1,21.8,1.1,32.1,2.7,35.6,6.2,41.3,10.4,44.8,11.5,51.7,11.8,55.1,10.4,51.7,6.9,57.4,4.6,51.7,2.1,57.4,0.1]],
['d',[31,8.5,39,12,45.3,14.6,48.2,15.4,56.3,15.2,59.7,13.6,63.1,11,68.9,10.1,74.6,11.3,81.5,12.1,90.7,10.7,91.8,9.7,101,9.4,106.2,6.5,101,4.1,95.3,3.3,88.4,4.6,74.6,4.9,68.9,1.7]],
['d',[68.9,0,72.3,-2.8,70,-5.3,73.5,-7.9,71.2,-10.1,59.7,-10.8,58,-13.7,54,-16.2,54,-17.8,65.4,-19.1]],
['d',[58.5,-2.1,60.3,-5.6,57.4,-7.9,45.9,-10.8,43.6,-13,39,-13.2,36.7,-12,36.7,-8.8,33.3,-5,26.4,-3.1,21.8,-2.1,17.2,-2.8,14.9,-5.3,11.5,-5.6,12.6,-8.8,8,-10.9,0,-10.1]],
['d',[40.2,2.1,45.9,0.8,50.5,-0.8,42.5,-0.8,36.7,0.4,40.2,2.1]],
['d',[0,4.9,8,4.9,17.2,2,16,0.8]],
['d',[0,2,6.9,-0.2,6.9,-2.4,3.4,-4]],
['d',[180,-13.3,168,-14,166.5,-15.3,172.2,-17.5,180,-17.5]],
['d',[25.3,-9.5,29.8,-10.1,29.8,-11.3,27,-11.7,20.7,-12,16,-11.7]],
['d',[15,-20,24,-17.2,33.3,-18.5,32,-19.7]],
['d',[0,-14.3,6.9,-16.5,5.7,-19.7]]];

const panelHeat=[heatA,heatB,heatC,heatD,heatE,heatF,heatG,heatH,heatI,heatJ];
const panelContours=[contoursA,contoursB,contoursC,contoursD,contoursE,contoursF,contoursG,contoursH,contoursI,contoursJ];
const panelKeys=['a','b','c','d','e','f','g','h','i','j'];

const NS='http://www.w3.org/2000/svg';
const root=document.getElementById('layers');
function make(tag,parent,attrs){
  const node=document.createElementNS(NS,tag);
  for(const k in attrs){node.setAttribute(k,attrs[k]);}
  parent.appendChild(node);
  return node;
}
const colLeft=[165,1049], rowTop=[76,575,1074,1573,2072], axW=589, axH=415;
const barOffset=[624,623];

function bandColor(v){
  const k=Math.min(5,Math.floor(Math.abs(v)/5));
  const s=bandShades[k];
  return v>=0?`rgb(255,${s},${s})`:`rgb(${s},${s},255)`;
}
function catmull(a,b,c,d,t){
  return b+0.5*t*(c-a+t*(2*a-5*b+4*c-d+t*(3*(b-c)+d-a)));
}
function sampleHeat(grid,lon,lag){
  const u=lon/15, v=(20-lag)/4;
  const i=Math.max(0,Math.min(11,Math.floor(u))), j=Math.max(0,Math.min(9,Math.floor(v)));
  const fx=u-i, fy=v-j, rows=[];
  for(let r=-1;r<=2;r++){
    const row=grid[Math.max(0,Math.min(10,j+r))];
    const at=n=>row[Math.max(0,Math.min(12,n))];
    rows.push(catmull(at(i-1),at(i),at(i+1),at(i+2),fx));
  }
  return catmull(rows[0],rows[1],rows[2],rows[3],fy);
}
function smoothPath(pts,xf,yf){
  const P=[];
  for(let i=0;i<pts.length;i+=2){P.push([xf(pts[i]),yf(pts[i+1])]);}
  let d=`M${P[0][0].toFixed(1)} ${P[0][1].toFixed(1)}`;
  const closed=P.length>3&&P[0][0]===P[P.length-1][0]&&P[0][1]===P[P.length-1][1];
  for(let i=0;i<P.length-1;i++){
    const a=P[i===0?(closed?P.length-2:0):i-1], b=P[i], c=P[i+1];
    const e=P[i+2<P.length?i+2:(closed?1:P.length-1)];
    const c1x=b[0]+(c[0]-a[0])/6, c1y=b[1]+(c[1]-a[1])/6;
    const c2x=c[0]-(e[0]-b[0])/6, c2y=c[1]-(e[1]-b[1])/6;
    d+=`C${c1x.toFixed(1)} ${c1y.toFixed(1)} ${c2x.toFixed(1)} ${c2y.toFixed(1)} ${c[0].toFixed(1)} ${c[1].toFixed(1)}`;
  }
  return d;
}
function fmt(v){return v<0?'\u2212'+Math.abs(v):String(v);}

panelKeys.forEach((key,idx)=>{
  const col=idx%2, row=Math.floor(idx/2);
  const L=colLeft[col], T=rowTop[row];
  const xOf=lon=>L+lon/180*axW;
  const yOf=lag=>T+(20-lag)/40*axH;
  const lonOf=x=>(x-L)/axW*180;
  const lagOf=y=>20-(y-T)/axH*40;

  const g=make('g',root,{});
  
  

  const clip=make('clipPath',g,{id:'clip-'+key});
  make('rect',clip,{x:L,y:T,width:axW,height:axH});

  const heatGroup=make('g',g,{'shape-rendering':'crispEdges','clip-path':`url(#clip-${key})`});
  
  
  const step=3;
  for(let y=T;y<T+axH;y+=step){
    let startX=L, cur=null;
    for(let x=L;;x+=step){
      const atEnd=x>=L+axW;
      const next=atEnd?null:bandColor(sampleHeat(panelHeat[idx],lonOf(x+step/2),lagOf(y+step/2)));
      if(next!==cur){
        if(cur!==null){
          const cell=make('rect',heatGroup,{x:startX,y:y,width:Math.min(x,L+axW)-startX+0.5,height:step+0.5,fill:cur});
          
          
        }
        startX=x;cur=next;
      }
      if(atEnd){break;}
    }
  }

  // Grid lines
  lonTicks.slice(1,-1).forEach(t=>{
    const gl=make('line',g,{x1:xOf(t),x2:xOf(t),y1:T,y2:T+axH,stroke:'#b0b0b0','stroke-width':2.8});
    
    
  });
  lagTicks.slice(1,-1).forEach(t=>{
    const gl=make('line',g,{x1:L,x2:L+axW,y1:yOf(t),y2:yOf(t),stroke:'#b0b0b0','stroke-width':2.8});
    
    
  });

  // Contours
  const contourGroup=make('g',g,{'clip-path':`url(#clip-${key})`});
  
  
  panelContours[idx].forEach(c=>{
    const attrs={d:smoothPath(c[1],xOf,yOf),fill:'none','stroke-width':4.2,'stroke-linejoin':'round',stroke:c[0]==='r'?'#ff0000':'#0000ff'};
    if(c[0]==='d'){attrs['stroke-dasharray']='17 8';}
    const line=make('path',contourGroup,attrs);
    
    
  });

  // Reference lines
  [[blackLag,'#000000','black-regression-line'],[redLag,'#ff0000','red-regression-line'],[blueLag,'#0000ff','blue-regression-line']].forEach(r=>{
    const ln=make('line',g,{x1:xOf(refLon[0]),y1:yOf(r[0][0]),x2:xOf(refLon[1]),y2:yOf(r[0][1]),stroke:r[1],'stroke-width':5.4});
    
    
  });

  // Frame
  const frame=make('rect',g,{x:L,y:T,width:axW,height:axH,fill:'none',stroke:'#222','stroke-width':1.8});
  
  

  // Ticks
  lonTicks.forEach(t=>{
    const tk=make('line',g,{x1:xOf(t),x2:xOf(t),y1:T+axH,y2:T+axH+11,stroke:'#222','stroke-width':1.8});
    
    
    if(row===4){
      const lb=make('text',g,{class:'tick',x:xOf(t),y:T+axH+49,'text-anchor':'middle'});
      lb.textContent=String(t);
      
      
    }
  });
  lagTicks.forEach(t=>{
    const tk=make('line',g,{x1:L-11,x2:L,y1:yOf(t),y2:yOf(t),stroke:'#222','stroke-width':1.8});
    
    
    if(col===0){
      const lb=make('text',g,{class:'tick',x:L-22,y:yOf(t)+13,'text-anchor':'end'});
      lb.textContent=fmt(t);
      
      
    }
  });

  // Colour bar
  const bx=L+barOffset[col], bw=21;
  const barY=v=>T+(30-v)/60*axH;
  const bar=make('g',g,{'shape-rendering':'crispEdges'});
  
  
  levels.forEach(lv=>{
    const seg=make('rect',bar,{x:bx,y:barY(lv+5),width:bw,height:barY(lv)-barY(lv+5)+0.5,fill:bandColor(lv+2.5)});
    
    
  });
  const bf=make('rect',g,{x:bx,y:T,width:bw,height:axH,fill:'none',stroke:'#222','stroke-width':1.8});
  
  
  barTicks.forEach(t=>{
    const tk=make('line',g,{x1:bx+bw,x2:bx+bw+11,y1:barY(t),y2:barY(t),stroke:'#222','stroke-width':1.8});
    
    
    const lb=make('text',g,{class:'tick',x:bx+bw+22,y:barY(t)+13});
    lb.textContent=fmt(t);
    
    
  });
});
</script>
</body>
</html>
